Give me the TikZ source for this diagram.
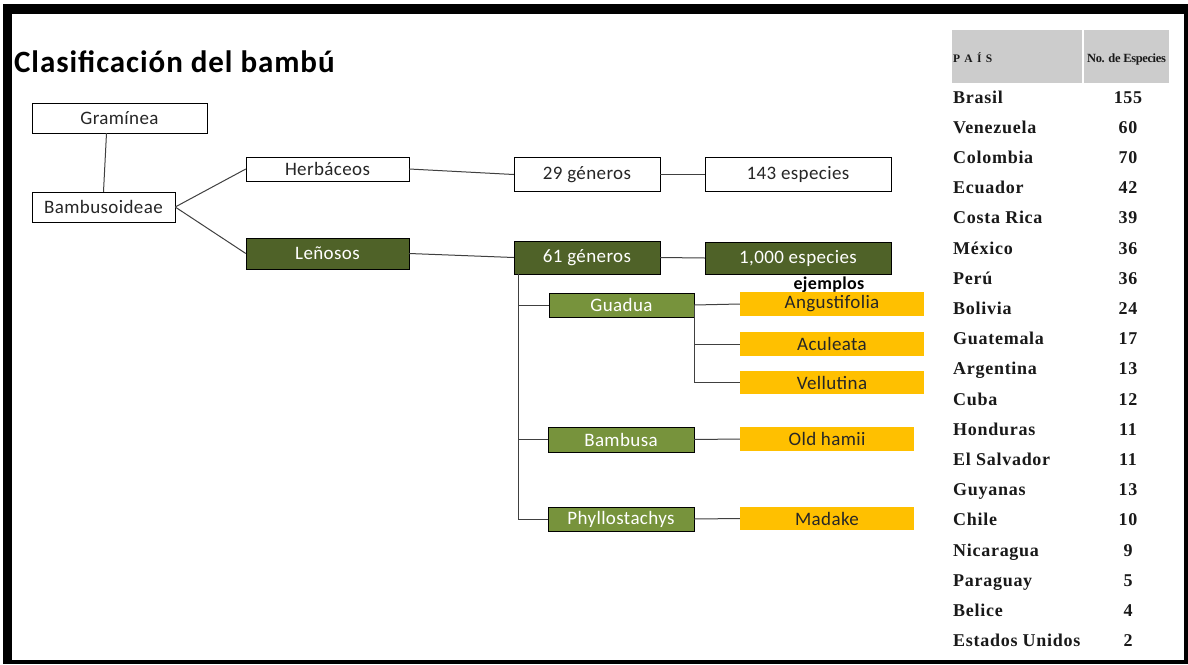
\documentclass[tikz,border=0pt]{standalone}
\usepackage{fontspec}
\setmainfont{Carlito}
\newfontfamily\cajafont[LetterSpace=2]{Carlito}
\newfontfamily\titulofont[LetterSpace=3]{Carlito}
\newfontfamily\tablafont[LetterSpace=4]{Liberation Serif}
\newfontfamily\paisfont[LetterSpace=12]{Liberation Serif}
\newfontfamily\cabezafont[LetterSpace=-3]{Liberation Serif}
\usetikzlibrary{calc}
\definecolor{olivo}{HTML}{4F6228}
\definecolor{verde}{HTML}{77933C}
\definecolor{amarillo}{HTML}{FFC000}
\definecolor{gris}{HTML}{CCCCCC}
\definecolor{linea}{HTML}{404040}

\begin{document}
\begin{tikzpicture}[x=1pt, y=-1pt,
	caja/.style = {draw=black, fill=white, inner sep=0pt, text=black!85,
				   font=\cajafont\fontsize{19}{20}\selectfont},
	oscura/.style = {caja, fill=olivo, text=white},
	media/.style = {caja, fill=verde, text=white},
	ejemplo/.style = {caja, draw=none, fill=amarillo},
	conn/.style = {draw=linea, line width=1pt},
	fila/.style = {font=\tablafont\bfseries\fontsize{18}{20}\selectfont,
				   text=black!90, inner sep=0pt}]
	\useasboundingbox (0,0) rectangle (1188,664);
	\fill[white] (0,0) rectangle (1188,664);
	% marco
	\fill[black] (3,4) rectangle (1188,664);
	\fill[white] (12,14) rectangle (1184,660);

	\draw (14,72) node[anchor=base west, inner sep=0pt,
					   font=\titulofont\bfseries\fontsize{31}{34}\selectfont](titulo) {Clasificación del bambú};

	% arbol
	\draw (119.5,118) node[caja, minimum width=175pt,
						   minimum height=30pt](gram) {Gramínea};
	\draw (103.5,207) node[caja, minimum width=143pt,
						   minimum height=30pt](bambu) {Bambusoideae};
	\draw (327.5,169) node[caja, minimum width=163pt,
						   minimum height=24pt](herb) {Herbáceos};
	\draw (327.5,253.5) node[oscura, minimum width=163pt,
							 minimum height=31pt](leno) {Leñosos};
	\draw (587,174.5) node[caja, minimum width=146pt,
						   minimum height=34pt](gen29) {29 géneros};
	\draw (798,174.5) node[caja, minimum width=186pt,
						   minimum height=34pt](esp143) {143 especies};
	\draw (587,257.5) node[oscura, minimum width=146pt,
						   minimum height=33pt](gen61) {61 géneros};
	\draw (798,258) node[oscura, minimum width=186pt,
						 minimum height=32pt](esp1000) {1,000 especies};
	\draw (829,289) node[anchor=base, inner sep=0pt,
						 font=\cajafont\bfseries\fontsize{18}{20}\selectfont](ejemplos) {ejemplos};

	\draw (621.5,305) node[media, minimum width=145pt,
						   minimum height=24pt](guadua) {Guadua};
	\draw (621,439.5) node[media, minimum width=146pt,
						   minimum height=25pt](bambusa) {Bambusa};
	\draw (621,519) node[media, minimum width=146pt,
						 minimum height=24pt](phyl) {Phyllostachys};

	\draw (832,304) node[ejemplo, minimum width=184pt,
						 minimum height=24pt](angus) {Angustifolia};
	\draw (832,344) node[ejemplo, minimum width=184pt,
						 minimum height=24pt](acul) {Aculeata};
	\draw (832,382.5) node[ejemplo, minimum width=184pt,
						   minimum height=23pt](vell) {Vellutina};
	\draw (827,439) node[ejemplo, minimum width=174pt,
						 minimum height=24pt](oldh) {Old hamii};
	\draw (827,518.5) node[ejemplo, minimum width=174pt,
						   minimum height=23pt](madake) {Madake};

	\draw[conn] ([xshift=-13pt]gram.south) -- (bambu.north);
	\draw[conn] (bambu.east) -- (herb.west);
	\draw[conn] (bambu.east) -- (leno.west);
	\draw[conn] (herb.east) -- (gen29.west);
	\draw[conn] (leno.east) -- (gen61.west);
	\draw[conn] (gen29.east) -- (esp143.west);
	\draw[conn] (gen61.east) -- (esp1000.west);

	\coordinate (tronco) at ([xshift=5pt]gen61.south west);
	\draw[conn] (tronco) |- (phyl.west);
	\draw[conn] (tronco |- guadua.west) -- (guadua.west);
	\draw[conn] (tronco |- bambusa.west) -- (bambusa.west);

	\draw[conn] (guadua.east) -- (angus.west);
	\draw[conn] (guadua.east) |- (vell.west);
	\draw[conn] (guadua.east |- acul.west) -- (acul.west);
	\draw[conn] (bambusa.east) -- (oldh.west);
	\draw[conn] (phyl.east) -- (madake.west);

	% tabla
	\draw (1017,56.5) node[fill=gris, minimum width=130pt,
						   minimum height=53pt](cabpais) {};
	\draw (1126.5,56.5) node[fill=gris, minimum width=85pt,
							 minimum height=53pt](cabnum) {};
	\draw (953,62) node[anchor=base west, inner sep=0pt, text=black!90,
						font=\paisfont\bfseries\fontsize{11.5}{12}\selectfont](pais) {P A Í S};
	\draw (cabnum.center |- pais.base) node[anchor=base, inner sep=0pt, text=black!90,
						font=\cabezafont\bfseries\fontsize{12.5}{14}\selectfont](numesp) {No. de Especies};

	\foreach \nombre/\num [count=\i from 0] in {Brasil/155, Venezuela/60, Colombia/70,
		Ecuador/42, Costa Rica/39, México/36, Perú/36, Bolivia/24, Guatemala/17,
		Argentina/13, Cuba/12, Honduras/11, El Salvador/11, Guyanas/13, Chile/10,
		Nicaragua/9, Paraguay/5, Belice/4, Estados Unidos/2}
	{
		\draw (953,{103+30.2*\i}) node[fila, anchor=base west](pais\i) {\nombre};
		\draw (1128,{103+30.2*\i}) node[fila, anchor=base](num\i) {\num};
	}
\end{tikzpicture}
\end{document}
